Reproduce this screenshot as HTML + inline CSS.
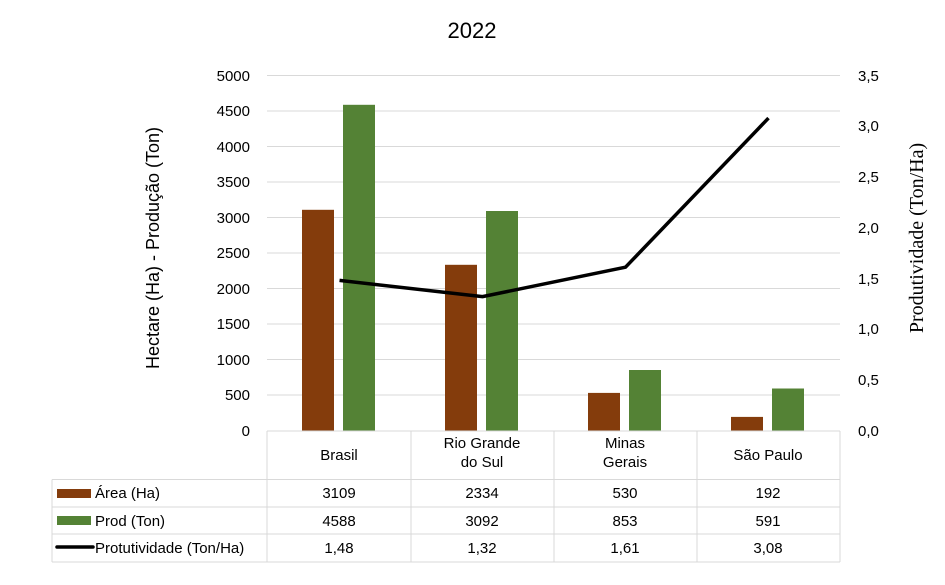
<!DOCTYPE html>
<html><head><meta charset="utf-8"><style>
body{margin:0;background:#fff}
svg{display:block;font-family:"Liberation Sans",sans-serif}
</style></head><body>
<svg width="945" height="585" viewBox="0 0 945 585">
<rect width="945" height="585" fill="#fff"/>
<text x="472" y="38" font-size="22" text-anchor="middle" fill="#000">2022</text>
<g stroke="#d9d9d9" stroke-width="1">
<line x1="267" x2="840" y1="75.5" y2="75.5"/>
<line x1="267" x2="840" y1="111" y2="111"/>
<line x1="267" x2="840" y1="146.5" y2="146.5"/>
<line x1="267" x2="840" y1="182" y2="182"/>
<line x1="267" x2="840" y1="217.5" y2="217.5"/>
<line x1="267" x2="840" y1="253" y2="253"/>
<line x1="267" x2="840" y1="288.5" y2="288.5"/>
<line x1="267" x2="840" y1="324" y2="324"/>
<line x1="267" x2="840" y1="359.5" y2="359.5"/>
<line x1="267" x2="840" y1="395" y2="395"/>
</g>
<g font-size="15" fill="#000" text-anchor="end">
<text x="250" y="81">5000</text><text x="250" y="116">4500</text><text x="250" y="152">4000</text>
<text x="250" y="187">3500</text><text x="250" y="223">3000</text><text x="250" y="258">2500</text>
<text x="250" y="294">2000</text><text x="250" y="329">1500</text><text x="250" y="365">1000</text>
<text x="250" y="400">500</text><text x="250" y="436">0</text>
</g>
<g font-size="15" fill="#000" text-anchor="start">
<text x="858" y="81">3,5</text><text x="858" y="131">3,0</text><text x="858" y="182">2,5</text>
<text x="858" y="233">2,0</text><text x="858" y="284">1,5</text><text x="858" y="334">1,0</text>
<text x="858" y="385">0,5</text><text x="858" y="436">0,0</text>
</g>
<text transform="translate(159,248) rotate(-90)" font-size="18" text-anchor="middle">Hectare (Ha) - Produção (Ton)</text>
<text transform="translate(923,238) rotate(-90)" font-size="20" text-anchor="middle" font-family="Liberation Serif,serif">Produtividade (Ton/Ha)</text>
<g fill="#843C0C">
<rect x="302" y="209.8" width="32" height="220.7"/>
<rect x="445" y="264.8" width="32" height="165.7"/>
<rect x="588" y="392.9" width="32" height="37.6"/>
<rect x="731" y="416.9" width="32" height="13.6"/>
</g>
<g fill="#548235">
<rect x="343" y="104.8" width="32" height="325.7"/>
<rect x="486" y="211" width="32" height="219.5"/>
<rect x="629" y="370" width="32" height="60.5"/>
<rect x="772" y="388.5" width="32" height="42"/>
</g>
<polyline points="339.5,280.4 482.5,296.6 625.5,267.2 768.5,118.1" fill="none" stroke="#000" stroke-width="3.5" stroke-linejoin="round"/>
<g stroke="#d9d9d9" stroke-width="1" fill="none">
<line x1="267" x2="840" y1="431" y2="431"/>
<line x1="52" x2="840" y1="479.5" y2="479.5"/>
<line x1="52" x2="840" y1="507" y2="507"/>
<line x1="52" x2="840" y1="534" y2="534"/>
<line x1="52" x2="840" y1="562" y2="562"/>
<line x1="52" x2="52" y1="479.5" y2="562"/>
<line x1="267" x2="267" y1="431" y2="562"/>
<line x1="411" x2="411" y1="431" y2="562"/>
<line x1="554" x2="554" y1="431" y2="562"/>
<line x1="697" x2="697" y1="431" y2="562"/>
<line x1="840" x2="840" y1="431" y2="562"/>
</g>
<g font-size="15" fill="#000" text-anchor="middle">
<text x="339" y="460">Brasil</text>
<text x="482" y="448">Rio Grande</text><text x="482" y="467">do Sul</text>
<text x="625" y="448">Minas</text><text x="625" y="467">Gerais</text>
<text x="768" y="460">São Paulo</text>
<text x="339" y="498">3109</text><text x="482" y="498">2334</text><text x="625" y="498">530</text><text x="768" y="498">192</text>
<text x="339" y="526">4588</text><text x="482" y="526">3092</text><text x="625" y="526">853</text><text x="768" y="526">591</text>
<text x="339" y="553">1,48</text><text x="482" y="553">1,32</text><text x="625" y="553">1,61</text><text x="768" y="553">3,08</text>
</g>
<rect x="57" y="489" width="34" height="9" fill="#843C0C"/>
<rect x="57" y="516" width="34" height="9" fill="#548235"/>
<line x1="57" x2="93" y1="547" y2="547" stroke="#000" stroke-width="3.5" stroke-linecap="round"/>
<g font-size="15" fill="#000">
<text x="95" y="498">Área (Ha)</text>
<text x="95" y="526">Prod (Ton)</text>
<text x="95" y="553">Protutividade (Ton/Ha)</text>
</g>
</svg>
</body></html>
